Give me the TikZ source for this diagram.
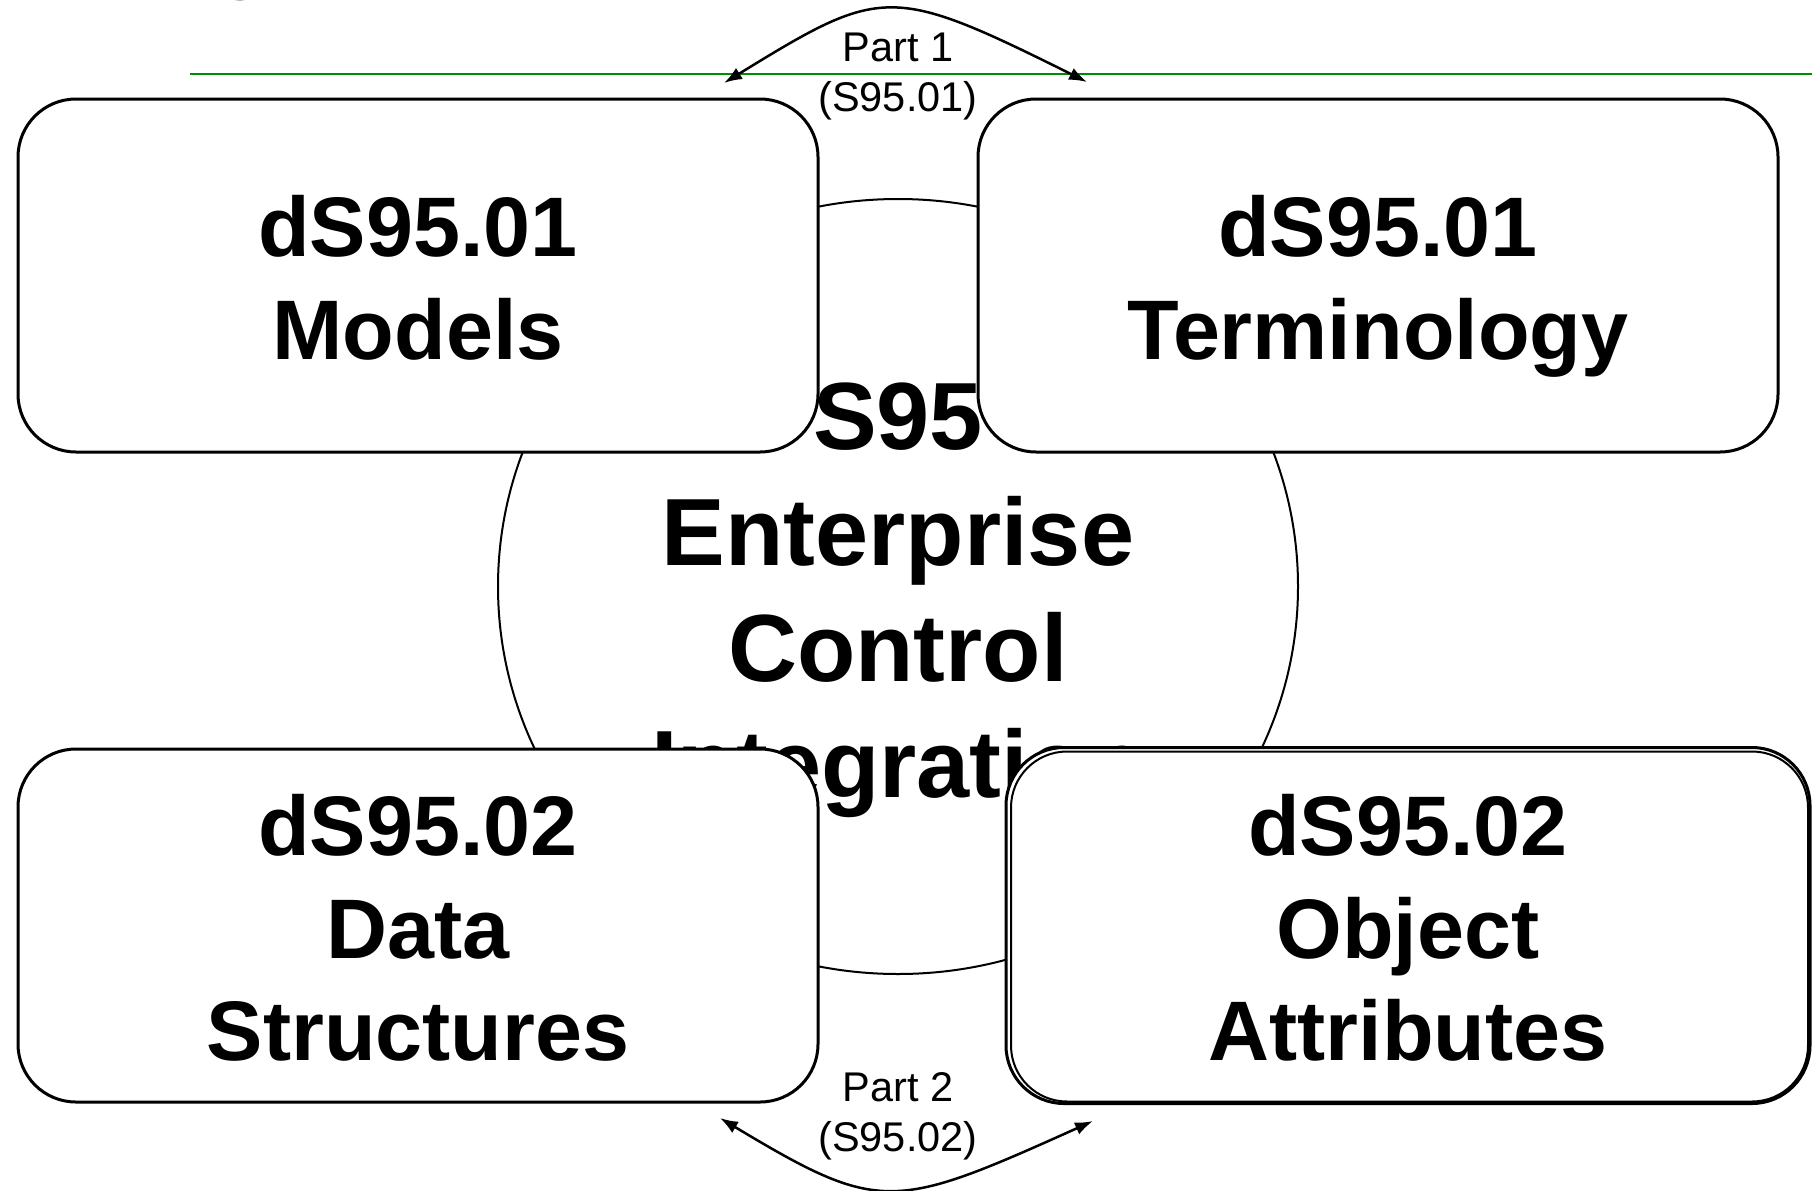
\documentclass[tikz,border=0pt]{standalone}
\usepackage{fontspec}
\setmainfont{Liberation Sans}
\usetikzlibrary{arrows.meta,positioning,shapes.geometric}
\definecolor{slidegreen}{RGB}{0,140,0}
\newcommand{\linestrut}{\rule[-0.221em]{0pt}{1.214em}}

\begin{document}
\begin{tikzpicture}[x=1pt,y=-1pt,>={Latex[length=18pt,width=13pt]},
		part/.style={draw,line width=3pt,fill=white,rounded corners=58pt,inner sep=0pt,outer sep=0pt,
			minimum width=800pt,minimum height=353pt,align=center,font=\fontsize{84.5}{102.6}\selectfont\bfseries},
		hub/.style={ellipse,draw,line width=2pt,inner sep=0pt,minimum width=800pt,minimum height=775pt,
			align=center,font=\fontsize{95.5}{116}\selectfont\bfseries},
		note/.style={inner sep=0pt,align=center,font=\fontsize{41.5}{50.4}\selectfont},
		link/.style={<->,line width=2.5pt}]
		\path[use as bounding box,fill=white] (0,0) rectangle (1812,1191);
		\node[anchor=base west,inner sep=0pt,font=\fontsize{93}{110}\selectfont\bfseries] (title) at (228,-19) {y};
		\coordinate (ruleL) at (190,73.5);
		\coordinate (ruleR) at (1812,73.5);
		\draw[slidegreen,line width=2pt] (ruleL) -- (ruleR);

		\node[hub] (eci) at (898,586.5) {\linestrut S95\\\linestrut Enterprise\\\linestrut Control\\\linestrut Integration};

		\node[part] (models) at (418,275.5) {\linestrut dS95.01\\\linestrut Models};
		\node[part] (term) [right=160pt of models] {\linestrut dS95.01\\\linestrut Terminology};
		\node[part] (data) [below=297pt of models] {\linestrut dS95.02\\\linestrut Data\\\linestrut Structures};
		\node[part,minimum width=804pt,minimum height=356pt] (obj) [right=188pt of data] {\linestrut dS95.02\\\linestrut Object\\\linestrut Attributes};
		\draw[line width=2pt,rounded corners=56pt] ([shift={(5,4)}]obj.north west) rectangle ([shift={(-2,-2)}]obj.south east);

		% part 1 and part 2 of the standard
		\coordinate (p1a) at (724,83);
		\coordinate (p1b) at (1087,82);
		\coordinate (p2a) at (720,1118);
		\coordinate (p2b) at (1093,1121);
		\draw[link] (p1a) .. controls (882,-14) and (890,-16) .. (p1b);
		\draw[link] (p2a) .. controls (880,1214) and (893,1211) .. (p2b);
		\node[note] (part1) at (898,70.7) {\linestrut Part 1\\\linestrut (S95.01)};
		\node[note] (part2) at (898,1110.5) {\linestrut Part 2\\\linestrut (S95.02)};
	\end{tikzpicture}
\end{document}
